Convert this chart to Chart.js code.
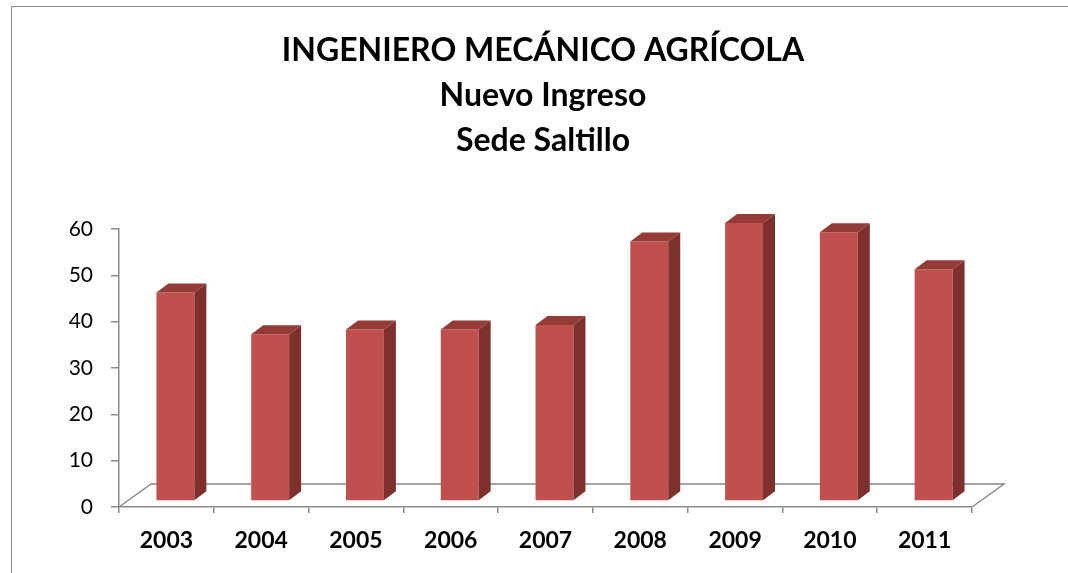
<!DOCTYPE html>
<html>
<head>
<meta charset="utf-8">
<script src="https://cdn.jsdelivr.net/npm/chart.js@4.4.1/dist/chart.umd.min.js"></script>
<style>
  html, body { margin: 0; padding: 0; background: #fff; }
  #wrap { position: relative; width: 1068px; height: 573px; overflow: hidden; }
  #frame { position: absolute; left: 11px; top: 6px; width: 1100px; height: 600px; border: 1px solid #8a8a8a; }
  canvas { position: absolute; left: 0; top: 0; }
</style>
</head>
<body>
<div id="wrap">
  <div id="frame"></div>
  <canvas id="chart" width="1068" height="573"></canvas>
</div>
<script>
// datos
const years = ['2003', '2004', '2005', '2006', '2007', '2008', '2009', '2010', '2011'];
const ingreso = [45, 36, 37, 37, 38, 56, 60, 58, 50];
const titleLines = ['INGENIERO MECÁNICO AGRÍCOLA', 'Nuevo Ingreso', 'Sede Saltillo'];
const yMax = 60;
const yStep = 10;

// efecto 3D (piso y columnas)
const FLOOR_DX = 32, FLOOR_DY = 23;
const SHIFT_X = 9, SHIFT_Y = 6;
const DEPTH_X = 12, DEPTH_Y = 9;
const axisGray = '#8a8a8a';

const bar3d = {
  id: 'bar3d',
  beforeDatasetsDraw(chart) {
    const { ctx, chartArea: a } = chart;
    ctx.save();
    ctx.strokeStyle = axisGray;
    ctx.lineWidth = 1.5;
    ctx.beginPath();
    ctx.moveTo(a.left, a.bottom);
    ctx.lineTo(a.left + FLOOR_DX, a.bottom - FLOOR_DY);
    ctx.lineTo(a.right + FLOOR_DX, a.bottom - FLOOR_DY);
    ctx.lineTo(a.right, a.bottom);
    ctx.stroke();
    ctx.restore();
    ctx.save();
    ctx.translate(SHIFT_X, -SHIFT_Y);
  },
  afterDatasetsDraw(chart) {
    const ctx = chart.ctx;
    chart.getDatasetMeta(0).data.forEach(bar => {
      const l = bar.x - bar.width / 2, r = bar.x + bar.width / 2;
      const t = bar.y, b = bar.base;
      // lado
      ctx.fillStyle = '#7e302d';
      ctx.beginPath();
      ctx.moveTo(r, b);
      ctx.lineTo(r + DEPTH_X, b - DEPTH_Y);
      ctx.lineTo(r + DEPTH_X, t - DEPTH_Y);
      ctx.lineTo(r, t);
      ctx.closePath();
      ctx.fill();
      // tapa
      ctx.fillStyle = '#943a37';
      ctx.beginPath();
      ctx.moveTo(l, t);
      ctx.lineTo(l + DEPTH_X, t - DEPTH_Y);
      ctx.lineTo(r + DEPTH_X, t - DEPTH_Y);
      ctx.lineTo(r, t);
      ctx.closePath();
      ctx.fill();
    });
    ctx.restore();
  }
};

new Chart(document.getElementById('chart'), {
  type: 'bar',
  data: {
    labels: years,
    datasets: [{
      data: ingreso,
      backgroundColor: '#c0504d',
      barPercentage: 0.4,
      categoryPercentage: 1,
      clip: false
    }]
  },
  options: {
    responsive: false,
    animation: false,
    layout: { padding: { top: 28, left: 18, right: 0, bottom: 0 } },
    plugins: {
      legend: { display: false },
      tooltip: { enabled: false },
      title: {
        display: true,
        text: titleLines,
        color: '#000',
        font: { family: 'Lato', size: 32, weight: 'bold', lineHeight: 1.40625 },
        padding: { top: 0, bottom: 66 }
      }
    },
    scales: {
      x: {
        afterFit: s => { s.height = 66; },
        grid: { drawOnChartArea: false, tickLength: 6, color: axisGray, lineWidth: 1.5 },
        border: { color: axisGray, width: 1.5 },
        ticks: { color: '#000', padding: 14, font: { family: 'Lato', size: 23, weight: 'bold' } }
      },
      y: {
        min: 0,
        max: yMax,
        afterFit: s => { s.width = 101; },
        grid: { drawOnChartArea: false, tickLength: 8, color: axisGray, lineWidth: 1.5 },
        border: { color: axisGray, width: 1.5 },
        ticks: { stepSize: yStep, color: '#000', padding: 18, font: { family: 'Lato', size: 21 } }
      },
      // eje vacío a la derecha para dejar espacio al piso 3D
      espacio: {
        position: 'right',
        display: true,
        afterFit: s => { s.width = 96; },
        grid: { display: false },
        border: { display: false },
        ticks: { display: false }
      }
    }
  },
  plugins: [bar3d]
});
</script>
</body>
</html>
